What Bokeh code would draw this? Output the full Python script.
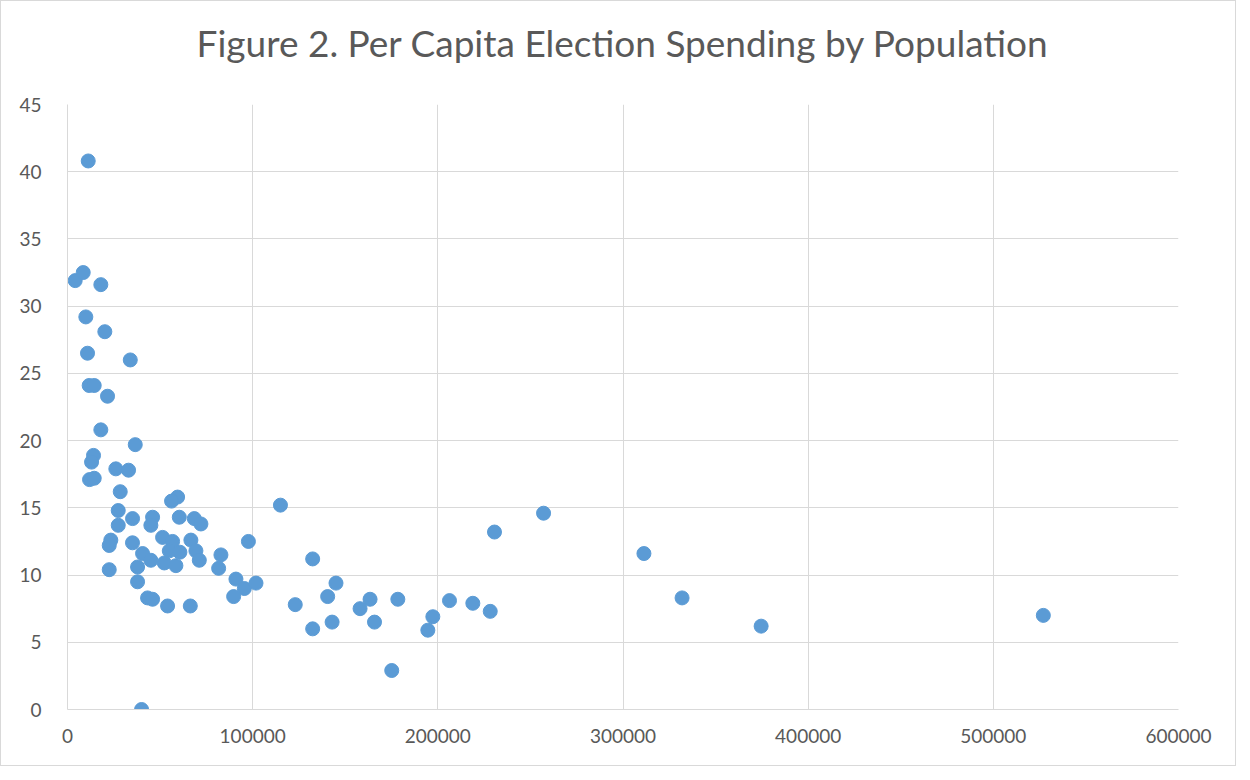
from bokeh.plotting import figure
from bokeh.models import FixedTicker, BasicTickFormatter, Range1d, LinearAxis
from bokeh.embed import file_html
from bokeh.resources import INLINE

# Population (x) and per-capita election spending (y)
population = [
    11190, 4160, 8490, 18000, 9900, 20160, 10810, 33900, 11700, 14430,
    21620, 18000, 36590, 14050, 13000, 11900, 14430, 26100, 32970, 28480,
    27400, 35130, 27400, 45950, 45020, 60370, 68480, 72050, 59460, 56200,
    115000, 97700, 23400, 22540, 35100, 51350, 56750, 54970, 60700, 40540,
    45020, 52270, 58540, 66640, 69350, 71180, 82860, 81620, 37840, 22540,
    37840, 90970, 95510, 101800, 89720, 43240, 45940, 54050, 66320, 40000,
    132400, 145000, 140500, 123000, 132400, 142900, 158000, 163400, 165800, 178400,
    175100, 197300, 194600, 206300, 218900, 228300, 230600, 257100, 311300, 331900,
    374600, 527000,
]
spending = [
    40.8, 31.9, 32.5, 31.6, 29.2, 28.1, 26.5, 26.0, 24.1, 24.1,
    23.3, 20.8, 19.7, 18.9, 18.4, 17.1, 17.2, 17.9, 17.8, 16.2,
    14.8, 14.2, 13.7, 14.3, 13.7, 14.3, 14.2, 13.8, 15.8, 15.5,
    15.2, 12.5, 12.6, 12.2, 12.4, 12.8, 12.5, 11.8, 11.7, 11.6,
    11.1, 10.9, 10.7, 12.6, 11.8, 11.1, 11.5, 10.5, 10.6, 10.4,
    9.5, 9.7, 9.0, 9.4, 8.4, 8.3, 8.2, 7.7, 7.7, 0.0,
    11.2, 9.4, 8.4, 7.8, 6.0, 6.5, 7.5, 8.2, 6.5, 8.2,
    2.9, 6.9, 5.9, 8.1, 7.9, 7.3, 13.2, 14.6, 11.6, 8.3,
    6.2, 7.0,
]
x_ticks = [0, 100000, 200000, 300000, 400000, 500000, 600000]
y_ticks = [0, 5, 10, 15, 20, 25, 30, 35, 40, 45]
title_text = "Figure 2. Per Capita Election Spending by Population"

TEXT = "#595959"
GRID = "#d9d9d9"
FONT = "Lato"

p = figure(width=1236, height=766, output_backend="svg", toolbar_location=None,
           x_range=Range1d(0, 600000), y_range=Range1d(0, 45),
           min_border_left=66, min_border_right=59, min_border_top=103, min_border_bottom=58)
p.styles = {"border": "1px solid #d9d9d9"}

p.outline_line_color = None
p.background_fill_color = "white"
p.border_fill_color = "white"

xax = p.below[0]
yax = p.left[0]
for ax in (xax, yax):
    ax.axis_line_color = GRID
    ax.major_tick_line_color = None
    ax.minor_tick_line_color = None
    ax.major_label_text_color = TEXT
    ax.major_label_text_font = FONT
    ax.major_label_text_font_size = "19px"

xax.ticker = FixedTicker(ticks=x_ticks)
yax.ticker = FixedTicker(ticks=y_ticks)
xax.formatter = BasicTickFormatter(use_scientific=False)
xax.major_label_standoff = 13
yax.major_label_standoff = 20

p.xgrid.ticker = FixedTicker(ticks=x_ticks)
p.ygrid.ticker = FixedTicker(ticks=y_ticks)
p.xgrid.grid_line_color = GRID
p.ygrid.grid_line_color = GRID

# chart title: label of a bare axis above the frame
top_axis = LinearAxis(ticker=FixedTicker(ticks=[]), axis_line_color=None,
                      major_tick_line_color=None, minor_tick_line_color=None,
                      major_tick_out=0, major_tick_in=0, minor_tick_out=0, minor_tick_in=0,
                      major_label_standoff=0, axis_label=title_text,
                      axis_label_standoff=40, axis_label_text_font=FONT,
                      axis_label_text_font_size="37px", axis_label_text_font_style="normal",
                      axis_label_text_color=TEXT)
p.add_layout(top_axis, "above")

p.scatter(population, spending, size=14, color="#5B9BD5", line_color="#5B9BD5")

open("out.html", "w").write(file_html(p, INLINE))
